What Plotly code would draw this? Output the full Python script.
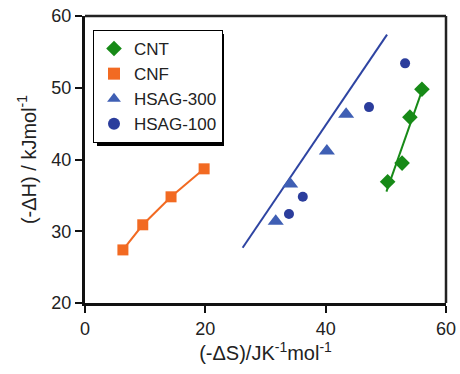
import numpy as np
import plotly.graph_objects as go

cnt_x = [50.3, 52.7, 54.0, 56.0]
cnt_y = [36.9, 39.5, 45.9, 49.8]
cnf_x = [6.3, 9.6, 14.3, 19.8]
cnf_y = [27.4, 30.9, 34.8, 38.7]
hs300_x = [31.7, 34.1, 40.2, 43.4]
hs300_y = [31.4, 36.6, 41.2, 46.3]
hs100_x = [33.9, 36.2, 47.2, 53.2]
hs100_y = [32.4, 34.8, 47.3, 53.4]
hsag_line_x = [26.2, 50.2]
hsag_line_y = [27.7, 57.4]
x_ticks = [0, 20, 40, 60]
y_ticks = [20, 30, 40, 50, 60]

GREEN = "#178a17"
ORANGE = "#f26a22"
TRI = "#3f5fb4"
CIRC = "#2b3d9c"
LINE = "#2e44a2"

W, H = 460, 374
ML, MR, MT, MB = 85, 14, 16, 71
PW, PH = W - ML - MR, H - MT - MB


def px_x(p):
    return (p - ML) / PW


def px_y(p):
    return (H - MB - p) / PH


fig = go.Figure()

c = np.polyfit(cnt_x, cnt_y, 1)
fx = np.array([min(cnt_x) - 0.2, max(cnt_x) + 0.2])
fig.add_trace(go.Scatter(x=fx, y=np.polyval(c, fx), mode="lines",
                         line=dict(color=GREEN, width=2), showlegend=False, hoverinfo="skip"))
fig.add_trace(go.Scatter(x=cnf_x, y=cnf_y, mode="lines",
                         line=dict(color=ORANGE, width=2), showlegend=False, hoverinfo="skip"))
fig.add_trace(go.Scatter(x=hsag_line_x, y=hsag_line_y, mode="lines",
                         line=dict(color=LINE, width=2), showlegend=False, hoverinfo="skip"))

fig.add_trace(go.Scatter(x=cnt_x, y=cnt_y, mode="markers", name="CNT",
                         marker=dict(symbol="diamond", size=12, color=GREEN)))
fig.add_trace(go.Scatter(x=cnf_x, y=cnf_y, mode="markers", name="CNF",
                         marker=dict(symbol="square", size=11, color=ORANGE)))
fig.add_trace(go.Scatter(x=hs300_x, y=hs300_y, mode="markers", name="HSAG-300",
                         marker=dict(symbol="triangle-up", size=14, color=TRI)))
fig.add_trace(go.Scatter(x=hs100_x, y=hs100_y, mode="markers", name="HSAG-100",
                         marker=dict(symbol="circle", size=10, color=CIRC)))

fig.update_layout(
    width=W, height=H,
    margin=dict(l=ML, r=MR, t=MT, b=MB, autoexpand=False),
    plot_bgcolor="white", paper_bgcolor="white",
    font=dict(family="Liberation Sans, Arial", size=18, color="#222"),
    showlegend=True,
    legend=dict(x=px_x(93), y=px_y(30), xanchor="left", yanchor="top",
                bgcolor="white", bordercolor="black", borderwidth=1,
                font=dict(size=17), tracegroupgap=0, itemsizing="constant",
                itemwidth=30),
    shapes=[
        dict(type="rect", xref="paper", yref="paper", layer="below",
             x0=px_x(97), x1=px_x(224), y0=px_y(146), y1=px_y(34),
             fillcolor="black", line=dict(width=0)),
        dict(type="line", xref="paper", yref="paper", x0=0, x1=1, y0=1, y1=1,
             line=dict(color="#222", width=2.5)),
        dict(type="line", xref="paper", yref="paper", x0=1, x1=1, y0=0, y1=1,
             line=dict(color="#222", width=2.5)),
    ],
)
fig.update_xaxes(range=[0, 60], tickvals=x_ticks, showgrid=False, zeroline=False,
                 showline=True, linecolor="#111", linewidth=3, automargin=False,
                 ticks="outside", ticklen=7, tickwidth=2, tickcolor="#111",
                 title=dict(text="(-ΔS)/JK<sup>-1</sup>mol<sup>-1</sup>", font=dict(size=20), standoff=8))
fig.update_yaxes(range=[20, 60], tickvals=y_ticks, showgrid=False, zeroline=False,
                 showline=True, linecolor="#111", linewidth=3, automargin=False,
                 ticks="outside", ticklen=7, tickwidth=2, tickcolor="#111",
                 title=dict(text="(-ΔH) / kJmol<sup>-1</sup>", font=dict(size=20), standoff=10))

fig.write_html("out.html")
